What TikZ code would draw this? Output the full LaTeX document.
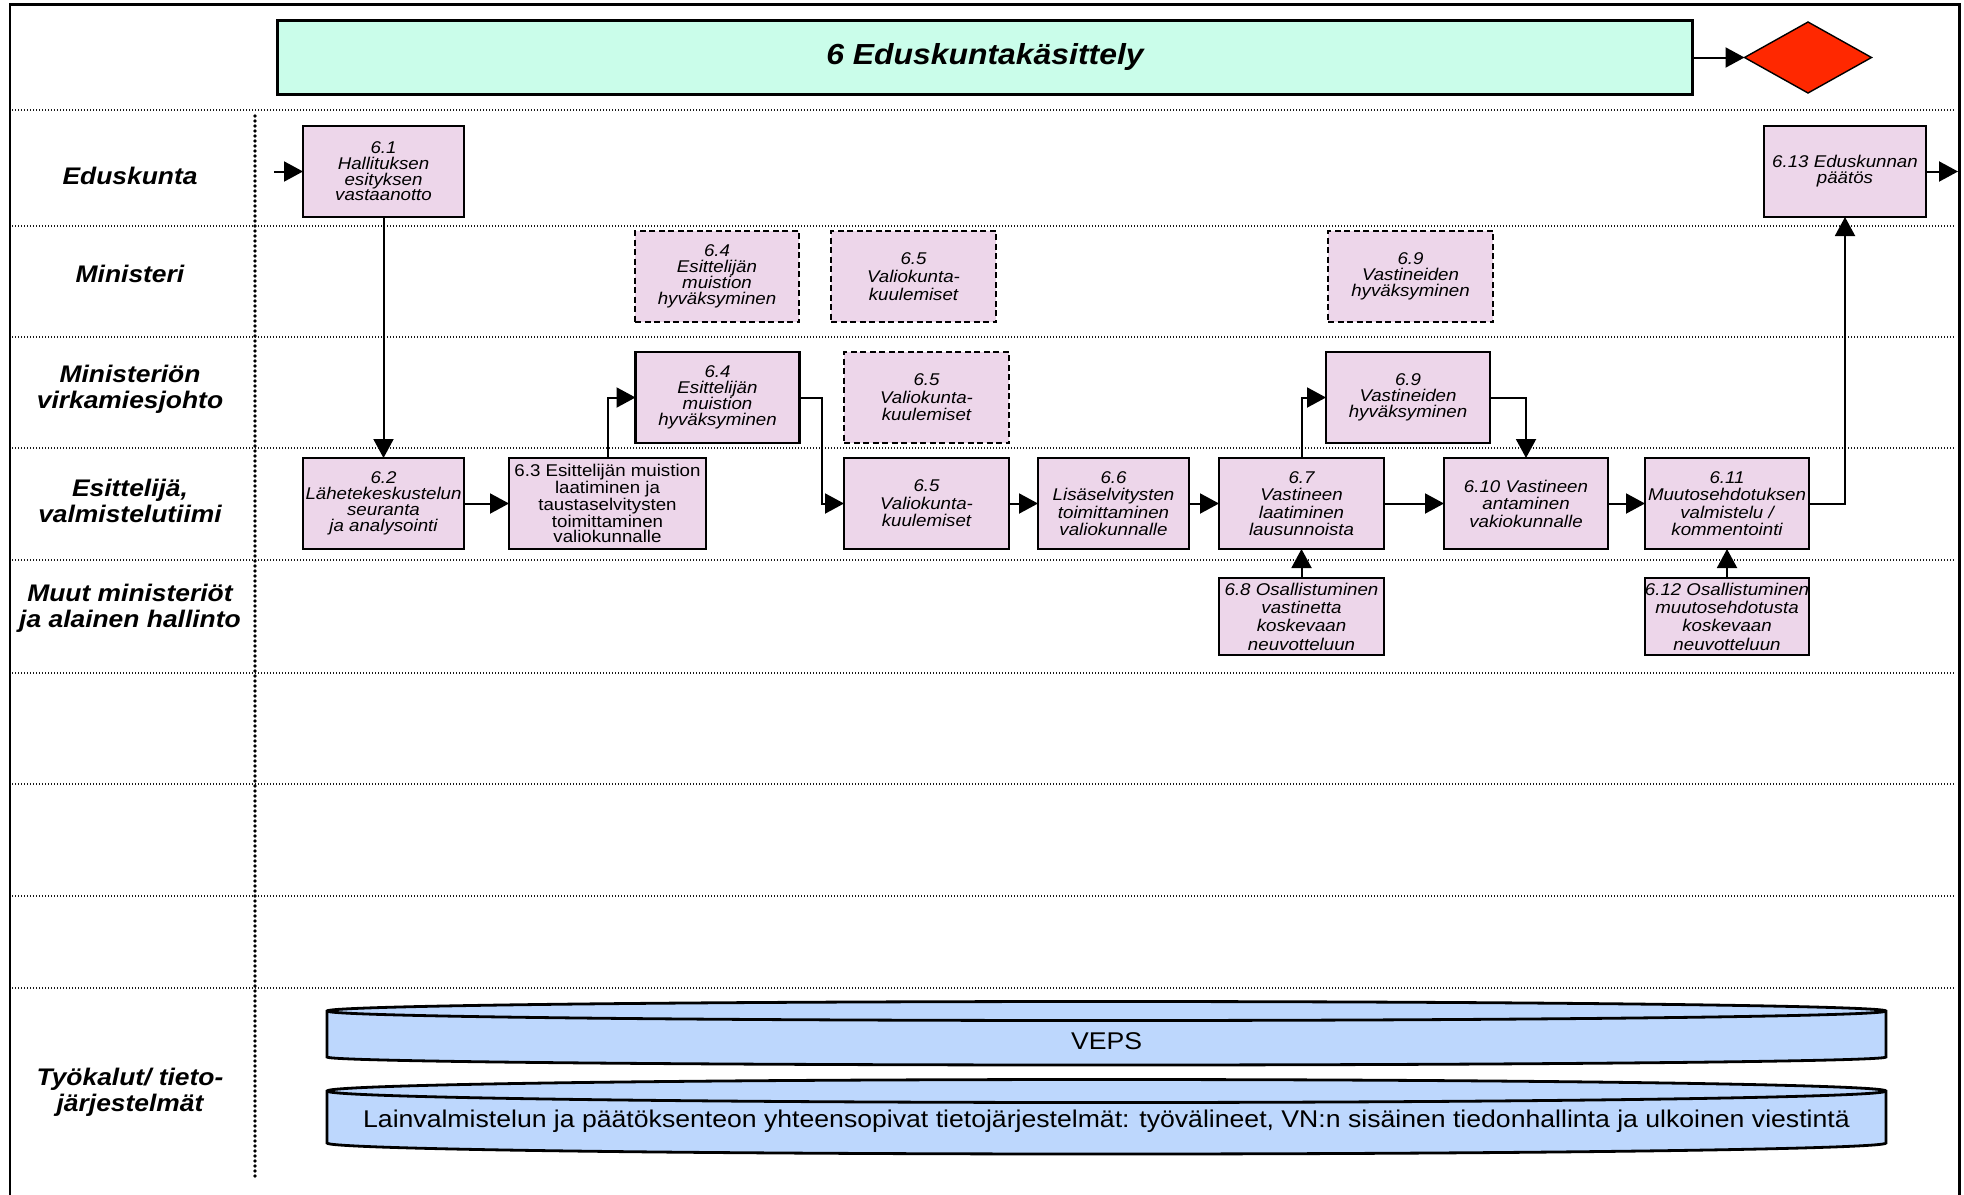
\documentclass[tikz,border=0pt]{standalone}
\usepackage{fontspec}
\setmainfont{Liberation Sans}[FakeStretch=1.1]
\usetikzlibrary{arrows.meta,shapes.geometric}
\definecolor{boxfill}{RGB}{237,214,234}
\definecolor{titlefill}{RGB}{202,253,234}
\definecolor{diamred}{RGB}{255,40,0}
\definecolor{cylfill}{RGB}{189,215,253}
\begin{document}
\begin{tikzpicture}[x=1pt,y=-1pt,
  proc/.style={draw, line width=2.3pt, fill=boxfill, inner sep=0pt, outer sep=0pt,
    align=center, font=\itshape\fontsize{17}{15.7}\selectfont, minimum height=91pt},
  procdash/.style={proc, dash pattern=on 6pt off 3.5pt},
  sp/.style={font=\itshape\fontsize{17}{#1}\selectfont},
  flow/.style={line width=2pt, -{Triangle[length=19pt,width=20pt]}},
  lane/.style={font=\bfseries\itshape\fontsize{24}{26}\selectfont, align=center, inner sep=0pt},
  lanesep/.style={line width=1.1pt, black!90, dash pattern=on 1.3pt off 1.7pt},
  cyl/.style={draw, line width=2.8pt, fill=cylfill},
  cyltext/.style={font=\fontsize{24.2}{26}\selectfont, inner sep=0pt}
]
\useasboundingbox (0,0) rectangle (1964,1194);
\fill[white] (0,0) rectangle (1964,1194);

% frame
\draw[line width=2.5pt] (10,1200) -- (10,4.7) -- (1959.5,4.7) -- (1959.5,1200);

% lane separators
\foreach \yy in {110,226,337,448,560,673,784,896,988}
  \draw[lanesep] (12,\yy) -- (1954,\yy);
\draw[line width=3.9pt, line cap=round, dash pattern=on 0pt off 5pt] (255,116) -- (255,1178);

% title and diamond
\node[draw, line width=2.8pt, fill=titlefill, minimum width=1415pt, minimum height=74pt,
  inner sep=0pt, outer sep=0pt, font=\bfseries\itshape\fontsize{29}{30}\selectfont]
  (title) at (985,57.5) {6 Eduskuntakäsittely};
\node[diamond, draw, line width=1.4pt, fill=diamred, minimum width=127pt, minimum height=71pt,
  inner sep=0pt, outer sep=0pt] (dia) at (1808,57.5) {};
\draw[flow] (title.east) -- (dia.west);

% lane labels
\node[lane] (l1) at (130,176) {Eduskunta};
\node[lane] (l2) at (130,274) {Ministeri};
\node[lane] (l3) at (130,389) {Ministeriön\\virkamiesjohto};
\node[lane] (l4) at (130,501) {Esittelijä,\\valmistelutiimi};
\node[lane] (l5) at (130,608) {Muut ministeriöt\\ja alainen hallinto};
\node[lane] (l6) at (130,1092) {Työkalut/ tieto-\\järjestelmät};

% Eduskunta
\node[proc, minimum width=161pt] (n61) at (383.5,171.5) {6.1\\Hallituksen\\esityksen\\vastaanotto};
\node[proc, sp=16, minimum width=162pt] (n613) at (1845,171.5) {6.13 Eduskunnan\\päätös};

% Ministeri
\node[procdash, sp=15.9, minimum width=164pt] (m64) at (717,276.5) {6.4\\Esittelijän\\muistion\\hyväksyminen};
\node[procdash, sp=18.2, minimum width=165pt] (m65) at (913.5,276.5) {6.5\\Valiokunta-\\kuulemiset};
\node[procdash, sp=16.3, minimum width=165pt] (m69) at (1410.5,276.5) {6.9\\Vastineiden\\hyväksyminen};

% Virkamiesjohto
\node[proc, sp=15.9, minimum width=164pt] (v64) at (717.5,397.5) {6.4\\Esittelijän\\muistion\\hyväksyminen};
\node[procdash, sp=17.5, minimum width=165pt] (v65) at (926.5,397.5) {6.5\\Valiokunta-\\kuulemiset};
\node[proc, sp=16.3, minimum width=164pt] (v69) at (1408,397.5) {6.9\\Vastineiden\\hyväksyminen};

% Esittelija
\node[proc, sp=15.9, minimum width=161pt] (e62) at (383.5,503.5) {6.2\\Lähetekeskustelun\\seuranta\\ja analysointi};
\node[proc, font=\fontsize{17}{15.3}\selectfont, minimum width=197pt] (e63) at (607.5,503.5) {6.3 Esittelijän muistion\\laatiminen ja\\taustaselvitysten\\toimittaminen\\valiokunnalle};
\node[proc, sp=17.5, minimum width=165pt] (e65) at (926.5,503.5) {6.5\\Valiokunta-\\kuulemiset};
\node[proc, sp=17.5, minimum width=151pt] (e66) at (1113.5,503.5) {6.6\\Lisäselvitysten\\toimittaminen\\valiokunnalle};
\node[proc, sp=17.5, minimum width=165pt] (e67) at (1301.5,503.5) {6.7\\Vastineen\\laatiminen\\lausunnoista};
\node[proc, sp=17.5, minimum width=164pt] (e610) at (1526,503.5) {6.10 Vastineen\\antaminen\\vakiokunnalle};
\node[proc, sp=17.5, minimum width=164pt] (e611) at (1727,503.5) {6.11\\Muutosehdotuksen\\valmistelu /\\kommentointi};

% Muut
\node[proc, sp=18.3, minimum width=165pt, minimum height=77pt] (o68) at (1301.5,616.5) {6.8 Osallistuminen\\vastinetta\\koskevaan\\neuvotteluun};
\node[proc, sp=18.3, minimum width=164pt, minimum height=77pt] (o612) at (1727,616.5) {6.12 Osallistuminen\\muutosehdotusta\\koskevaan\\neuvotteluun};

% connectors
\coordinate (in61) at (274,171.5);
\coordinate (out613) at (1958,171.5);
\draw[flow] (in61) -- (n61.west);
\draw[flow] (n613.east) -- (out613);
\draw[flow] (n61.south) -- (e62.north);
\draw[flow] (e62.east) -- (e63.west);
\draw[flow] (e63.north) |- (v64.west);
\draw[flow] (v64.east) -- ++(22,0) |- (e65.west);
\draw[flow] (e65.east) -- (e66.west);
\draw[flow] (e66.east) -- (e67.west);
\draw[flow] (e67.north) |- (v69.west);
\draw[flow] (v69.east) -| (e610.north);
\draw[flow] (e67.east) -- (e610.west);
\draw[flow] (e610.east) -- (e611.west);
\draw[flow] (e611.east) -| (n613.south);
\draw[flow] (o68.north) -- (e67.south);
\draw[flow] (o612.north) -- (e611.south);

% tool cylinders
\draw[cyl] (327,1011) -- (327,1057) arc[start angle=180, end angle=360, x radius=779.5pt, y radius=8pt]
  -- (1886,1011) arc[start angle=0, end angle=180, x radius=779.5pt, y radius=9.5pt] -- cycle;
\draw[line width=2.8pt] (327,1011) arc[start angle=180, end angle=360, x radius=779.5pt, y radius=9.5pt];
\node[cyltext] (veps) at (1106.5,1041) {VEPS};

\draw[cyl] (327,1091) -- (327,1143) arc[start angle=180, end angle=360, x radius=779.5pt, y radius=11pt]
  -- (1886,1091) arc[start angle=0, end angle=180, x radius=779.5pt, y radius=11.5pt] -- cycle;
\draw[line width=2.8pt] (327,1091) arc[start angle=180, end angle=360, x radius=779.5pt, y radius=11.5pt];
\node[cyltext] (lain) at (1106.5,1121) {Lainvalmistelun ja päätöksenteon yhteensopivat tietojärjestelmät: työvälineet, VN:n sisäinen tiedonhallinta ja ulkoinen viestintä};
\end{tikzpicture}
\end{document}
